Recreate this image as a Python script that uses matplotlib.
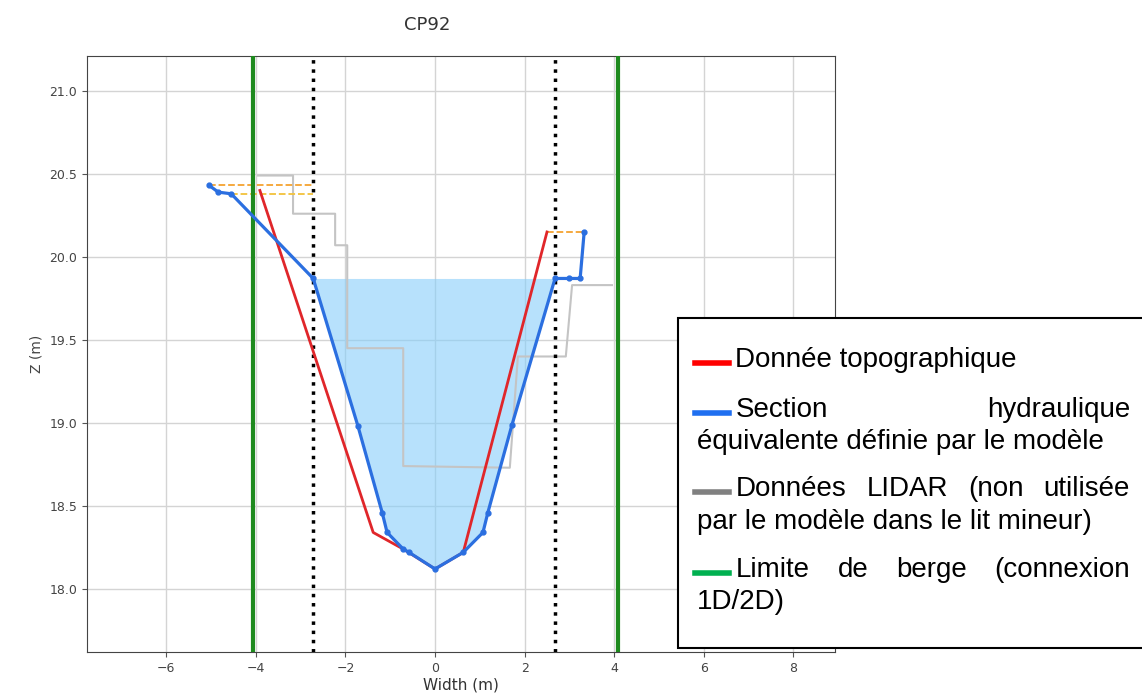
import matplotlib
matplotlib.use("Agg")
import matplotlib.pyplot as plt
from matplotlib.lines import Line2D
from matplotlib.patches import Rectangle

# section hydraulique equivalente (modele)
sec_x = [-5.04, -4.84, -4.55, -2.72, -1.72, -1.18, -1.07, -0.71, -0.58, 0.0,
         0.63, 1.07, 1.18, 1.72, 2.68, 2.99, 3.24, 3.33]
sec_z = [20.43, 20.39, 20.38, 19.87, 18.98, 18.46, 18.34, 18.24, 18.22, 18.12,
         18.22, 18.34, 18.46, 18.99, 19.87, 19.87, 19.87, 20.15]

# donnee topographique
topo_x = [-3.91, -1.38, -0.71, 0.0, 0.63, 2.50]
topo_z = [20.40, 18.34, 18.24, 18.12, 18.22, 20.15]

# donnees LIDAR
lidar_x = [-3.95, -3.17, -3.17, -2.23, -2.23, -1.96, -1.96, -0.71, -0.71,
           1.67, 1.85, 2.92, 3.06, 3.95]
lidar_z = [20.49, 20.49, 20.26, 20.26, 20.07, 20.07, 19.45, 19.45, 18.74,
           18.73, 19.40, 19.40, 19.83, 19.83]

water_level = 19.87
bank_limits = [-4.06, 4.08]
channel_limits = [-2.72, 2.68]

# raccords pointilles orange (x debut, x fin, z)
links = [(-5.04, -2.72, 20.43), (-4.55, -2.72, 20.38), (2.50, 3.33, 20.15)]
link_colors = ['#f5a330', '#f2c23a', '#f5a330']

legend_entries = [
    ('#ff0000', ["Donnée topographique"]),
    ('#1f6ff0', ["Section hydraulique", "équivalente définie par le modèle"]),
    ('#808080', ["Données LIDAR (non utilisée", "par le modèle dans le lit mineur)"]),
    ('#00b050', ["Limite de berge (connexion", "1D/2D)"]),
]

W, H = 1142, 694


def fx(px):
    return px / W


def fy(py):
    return 1 - py / H


fig = plt.figure(figsize=(W / 100, H / 100), dpi=100)
ax = fig.add_axes([fx(87), fy(652), (835 - 87) / W, (652 - 56) / H])

ax.grid(True, color='#d4d4d4', lw=1)
ax.set_axisbelow(True)

# eau dans le lit mineur
in_ch = [i for i, x in enumerate(sec_x) if channel_limits[0] <= x <= channel_limits[1]]
ax.fill_between([sec_x[i] for i in in_ch], [sec_z[i] for i in in_ch], water_level,
                color='#87cefa', alpha=0.6, lw=0, zorder=1)

ax.plot(lidar_x, lidar_z, color='#c4c4c4', lw=1.5, zorder=2)

for (xa, xb, z), c in zip(links, link_colors):
    ax.plot([xa, xb], [z, z], color=c, lw=1.3, ls='--', zorder=2)

for x in channel_limits:
    ax.axvline(x, color='black', lw=2.5, ls=':', zorder=3)
for x in bank_limits:
    ax.axvline(x, color='#1e8a1e', lw=3, zorder=3)

ax.plot(topo_x, topo_z, color='#e0262a', lw=2, zorder=4)
ax.plot(sec_x, sec_z, color='#2b6fe0', lw=2.3, marker='o', ms=3.5, zorder=5)

ax.set_xlim(-7.77, 8.93)
ax.set_ylim(17.62, 21.21)
ax.set_xticks([-6, -4, -2, 0, 2, 4, 6, 8])
ax.set_yticks([18.0, 18.5, 19.0, 19.5, 20.0, 20.5, 21.0])
ax.tick_params(labelsize=9, labelcolor='#444444', color='#555555')
for s in ax.spines.values():
    s.set_color('#444444')
ax.set_xlabel('Width (m)', fontsize=11, color='#333333', labelpad=2)
ax.set_ylabel('Z (m)', fontsize=10, color='#444444')
fig.text(fx(427), fy(25), 'CP92', fontsize=13, color='#333333', ha='center', va='center')

# legende (cadre blanc avec texte justifie)
fig.add_artist(Rectangle((fx(678), fy(648)), fx(1150) - fx(678), fy(318) - fy(648),
                         transform=fig.transFigure, facecolor='white',
                         edgecolor='black', lw=1.5, zorder=10))

renderer = fig.canvas.get_renderer()
font = dict(family='Liberation Sans', fontsize=20, color='black', va='center', zorder=11)


def justified(words, x0, x1, y):
    texts = [fig.text(0, fy(y), w, **font) for w in words]
    widths = [t.get_window_extent(renderer).width for t in texts]
    gap = (x1 - x0 - sum(widths)) / max(len(words) - 1, 1)
    x = x0
    for t, w in zip(texts, widths):
        t.set_x(fx(x))
        x += w + gap


line_y = [[360], [410, 442], [489, 522], [570, 602]]
for (color, lines), ys in zip(legend_entries, line_y):
    y0 = ys[0]
    fig.add_artist(Line2D([fx(695), fx(729)], [fy(y0 + 3), fy(y0 + 3)], color=color,
                          lw=4, transform=fig.transFigure, zorder=11))
    if len(lines) == 1:
        fig.text(fx(735), fy(y0), lines[0], **font)
    else:
        justified(lines[0].split(), 736, 1130, y0)
        fig.text(fx(697), fy(ys[1]), lines[1], **font)

fig.savefig('out.png', dpi=100)
